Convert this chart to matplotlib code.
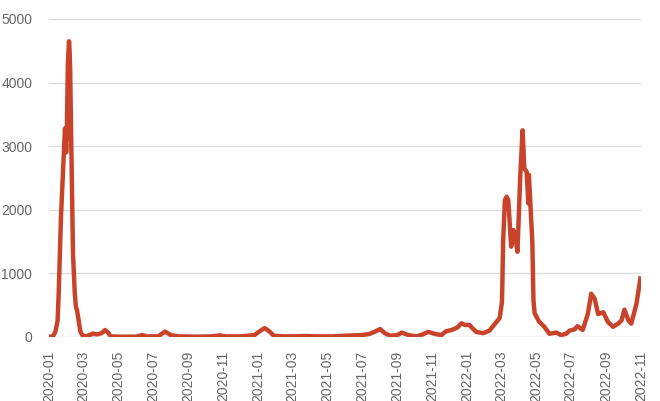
import pandas as pd
import numpy as np
import matplotlib.pyplot as plt
import matplotlib.dates as mdates

plt.rcParams['font.family'] = ['Liberation Sans', 'DejaVu Sans']

# =========================
# data
# =========================
dates = [
    "2020-01-01", "2020-01-08", "2020-01-12", "2020-01-16", "2020-01-18", "2020-01-20",
    "2020-01-22", "2020-01-25", "2020-01-28", "2020-01-29", "2020-01-31", "2020-02-01",
    "2020-02-03", "2020-02-05", "2020-02-06", "2020-02-07", "2020-02-09", "2020-02-12",
    "2020-02-15", "2020-02-17", "2020-02-19", "2020-02-22", "2020-02-25", "2020-02-29",
    "2020-03-05", "2020-03-12", "2020-03-18", "2020-03-25", "2020-04-02", "2020-04-08",
    "2020-04-13", "2020-04-18", "2020-05-01", "2020-06-01", "2020-06-12", "2020-06-20",
    "2020-07-10", "2020-07-22", "2020-08-01", "2020-08-15", "2020-09-15", "2020-10-10",
    "2020-10-26", "2020-11-05", "2020-12-01", "2020-12-25",
    "2021-01-05", "2021-01-12", "2021-01-20", "2021-01-28", "2021-02-15", "2021-03-01",
    "2021-03-28", "2021-04-10", "2021-05-10", "2021-06-01", "2021-06-15", "2021-07-01",
    "2021-07-15", "2021-07-25", "2021-08-02", "2021-08-10", "2021-08-20", "2021-09-01",
    "2021-09-09", "2021-09-20", "2021-10-05", "2021-10-15", "2021-10-25", "2021-11-05",
    "2021-11-17", "2021-11-25", "2021-12-05", "2021-12-15", "2021-12-22", "2021-12-28",
    "2022-01-05", "2022-01-10", "2022-01-17", "2022-01-29", "2022-02-09", "2022-02-18",
    "2022-02-27", "2022-03-03", "2022-03-05", "2022-03-08", "2022-03-11", "2022-03-14",
    "2022-03-19", "2022-03-23", "2022-03-26", "2022-03-30", "2022-04-04", "2022-04-08",
    "2022-04-11", "2022-04-15", "2022-04-18", "2022-04-19", "2022-04-25", "2022-04-27",
    "2022-04-29", "2022-05-07", "2022-05-16", "2022-05-25", "2022-06-06", "2022-06-14",
    "2022-06-23", "2022-06-29", "2022-07-08", "2022-07-13", "2022-07-22", "2022-07-31",
    "2022-08-06", "2022-08-12", "2022-08-18", "2022-08-27", "2022-09-04", "2022-09-13",
    "2022-09-22", "2022-09-28", "2022-10-03", "2022-10-10", "2022-10-15", "2022-10-24",
    "2022-10-31",
]
values = [
    5, 10, 80, 250, 700, 1300,
    1900, 2500, 3100, 3280, 2900, 3100,
    4300, 4650, 4500, 4200, 3000, 1300,
    700, 480, 420, 250, 80, 20,
    10, 30, 55, 40, 60, 110,
    70, 10, 5, 5, 30, 10,
    10, 85, 30, 10, 5, 10,
    25, 10, 10, 30,
    100, 140, 90, 20, 10, 10,
    15, 10, 10, 20, 25, 30,
    50, 90, 125, 60, 20, 30,
    70, 30, 10, 40, 80, 50,
    30, 90, 110, 150, 215, 190,
    190, 140, 80, 60, 100, 200,
    300, 560, 1500, 2150, 2205, 2150,
    1420, 1680, 1600, 1340, 2550, 3250,
    2650, 2600, 2100, 2550, 1500, 580,
    375, 240, 160, 50, 70, 30,
    50, 100, 120, 170, 110, 360,
    680, 600, 360, 390, 240, 160,
    210, 260, 430, 260, 210, 520,
    920,
]

y_ticks = [0, 1000, 2000, 3000, 4000, 5000]

# =========================
# plot
# =========================
fig = plt.figure(figsize=(6.6, 4.01), dpi=100)
ax = fig.add_axes([49 / 660, 1 - 337 / 401, (641 - 49) / 660, (337 - 19) / 401])

ax.plot(pd.to_datetime(dates), values, color="#C9432A", linewidth=3.2, solid_joinstyle="round")

ax.set_xlim(pd.Timestamp("2020-01-01"), pd.Timestamp("2022-11-01"))
ax.set_ylim(0, 5000)
ax.set_yticks(y_ticks)
ax.xaxis.set_major_locator(mdates.MonthLocator(bymonth=[1, 3, 5, 7, 9, 11]))
ax.xaxis.set_major_formatter(mdates.DateFormatter("%Y-%m"))
plt.setp(ax.get_xticklabels(), rotation=90)

ax.grid(axis="y", color="#dddddd", linewidth=1)
ax.set_axisbelow(True)
for s in ax.spines.values():
    s.set_visible(False)
ax.tick_params(axis="both", length=0, labelsize=10, labelcolor="#666666")
ax.tick_params(axis="x", pad=10)
ax.tick_params(axis="y", pad=12)

fig.savefig("out.png", dpi=100)
